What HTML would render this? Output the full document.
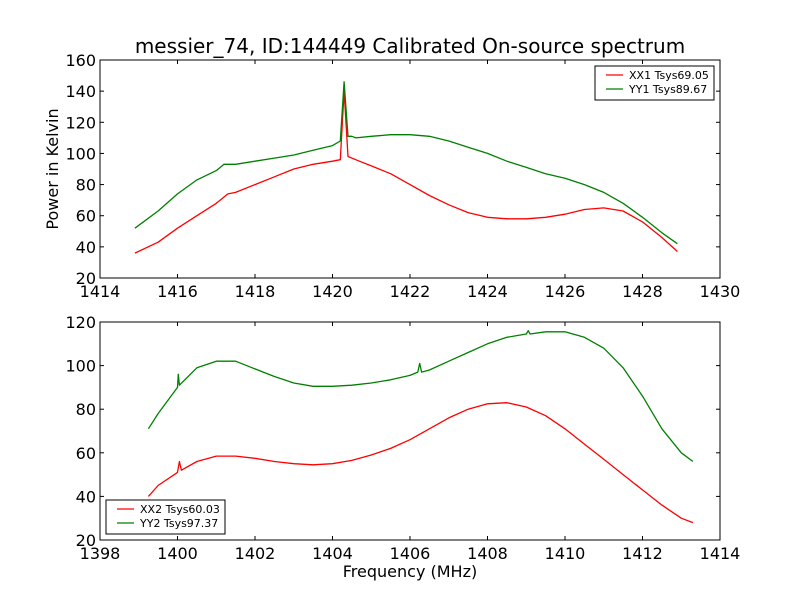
<!DOCTYPE html>
<html><head><meta charset="utf-8"><style>
body{margin:0;background:#fff}
svg{font-family:"DejaVu Sans","Liberation Sans",sans-serif}
</style></head><body>
<svg id="c" width="800" height="600" xmlns="http://www.w3.org/2000/svg"></svg>
<script>
const xx1X=[1414.9,1415.5,1416,1416.5,1417,1417.3,1417.5,1418,1418.5,1419,1419.5,1420,1420.2,1420.3,1420.4,1420.6,1421,1421.5,1422,1422.5,1423,1423.5,1424,1424.5,1425,1425.5,1426,1426.5,1427,1427.5,1428,1428.5,1428.9];
const xx1Y=[36,43,52,60,68,74,75,80,85,90,93,95,96,140,98,96,92,87,80,73,67,62,59,58,58,59,61,64,65,63,56,46,37];
const yy1X=[1414.9,1415.5,1416,1416.5,1417,1417.2,1417.5,1418,1418.5,1419,1419.5,1420,1420.2,1420.3,1420.4,1420.5,1420.6,1421,1421.5,1422,1422.5,1423,1423.5,1424,1424.5,1425,1425.5,1426,1426.5,1427,1427.5,1428,1428.5,1428.9];
const yy1Y=[52,63,74,83,89,93,93,95,97,99,102,105,108,146,111,111,110,111,112,112,111,108,104,100,95,91,87,84,80,75,68,59,49,42];
const xx2X=[1399.25,1399.5,1400,1400.05,1400.1,1400.5,1401,1401.5,1402,1402.5,1403,1403.5,1404,1404.5,1405,1405.5,1406,1406.5,1407,1407.5,1408,1408.5,1409,1409.5,1410,1410.5,1411,1411.5,1412,1412.5,1413,1413.3];
const xx2Y=[40,45,51,56,52,56,58.5,58.5,57.5,56,55,54.5,55,56.5,59,62,66,71,76,80,82.5,83,81,77,71,64,57,50,43,36,30,28];
const yy2X=[1399.25,1399.5,1400,1400.02,1400.05,1400.5,1401,1401.5,1402,1402.5,1403,1403.5,1404,1404.5,1405,1405.5,1406,1406.2,1406.25,1406.3,1406.5,1407,1407.5,1408,1408.5,1409,1409.05,1409.1,1409.5,1410,1410.5,1411,1411.5,1412,1412.5,1413,1413.3];
const yy2Y=[71,78,90,96,91,99,102,102,98.5,95,92,90.5,90.5,91,92,93.5,95.5,97,101,97,98,102,106,110,113,114.5,116,114.5,115.5,115.5,113,108,99,86,71,60,56];
const topXTicks=[1414,1416,1418,1420,1422,1424,1426,1428,1430];
const topYTicks=[20,40,60,80,100,120,140,160];
const botXTicks=[1398,1400,1402,1404,1406,1408,1410,1412,1414];
const botYTicks=[20,40,60,80,100,120];
const NS="http://www.w3.org/2000/svg";
const svg=document.getElementById('c');
function el(t,a,p){const e=document.createElementNS(NS,t);for(const k in a)e.setAttribute(k,a[k]);(p||svg).appendChild(e);return e;}
function panel(name,x0,x1,y0,y1,top,bot,xt,yt,series,leg){
  const L=100,R=720;
  const sx=v=>L+(v-x0)/(x1-x0)*(R-L), sy=v=>bot-(v-y0)/(y1-y0)*(bot-top);
  const g=el('g',{});
  series.forEach(s=>{const p=el('polyline',{points:s.x.map((v,i)=>sx(v).toFixed(1)+','+sy(s.y[i]).toFixed(1)).join(' '),fill:'none',stroke:s.c,'stroke-width':1.3,'stroke-linejoin':'round'},g);
    });
  const f=el('rect',{x:L,y:top,width:R-L,height:bot-top,fill:'none',stroke:'#000','stroke-width':1},g);
  
  xt.forEach(v=>{const X=sx(v);el('line',{x1:X,x2:X,y1:bot,y2:bot-4,stroke:'#000'},g);el('line',{x1:X,x2:X,y1:top,y2:top+4,stroke:'#000'},g);
    const t=el('text',{x:X,y:bot+19,'text-anchor':'middle','font-size':16},g);t.textContent=v;});
  yt.forEach(v=>{const Y=sy(v);el('line',{x1:L,x2:L+4,y1:Y,y2:Y,stroke:'#000'},g);el('line',{x1:R,x2:R-4,y1:Y,y2:Y,stroke:'#000'},g);
    const t=el('text',{x:L-4,y:Y+6,'text-anchor':'end','font-size':16},g);t.textContent=v;});
  const lg=el('g',{},g);
  el('rect',{x:leg.x,y:leg.y,width:119,height:34,fill:'#fff',stroke:'#000'},lg);
  series.forEach((s,i)=>{const Y=leg.y+9+i*14;el('line',{x1:leg.x+11,x2:leg.x+28,y1:Y,y2:Y,stroke:s.c,'stroke-width':1.2},lg);
    const t=el('text',{x:leg.x+34,y:Y+4,'font-size':11},lg);t.textContent=s.label;});
}
panel('top',1414,1430,20,160,60,278,topXTicks,topYTicks,[{n:'xx1',x:xx1X,y:xx1Y,c:'#ff0000',label:'XX1 Tsys69.05'},{n:'yy1',x:yy1X,y:yy1Y,c:'#008000',label:'YY1 Tsys89.67'}],{x:595,y:66});
panel('bottom',1398,1414,20,120,322,540,botXTicks,botYTicks,[{n:'xx2',x:xx2X,y:xx2Y,c:'#ff0000',label:'XX2 Tsys60.03'},{n:'yy2',x:yy2X,y:yy2Y,c:'#008000',label:'YY2 Tsys97.37'}],{x:106,y:500});
let t=el('text',{x:410,y:53,'text-anchor':'middle','font-size':20});t.textContent='messier_74, ID:144449 Calibrated On-source spectrum';
t=el('text',{x:410,y:577,'text-anchor':'middle','font-size':16});t.textContent='Frequency (MHz)';
t=el('text',{x:58,y:169,'text-anchor':'middle','font-size':16,transform:'rotate(-90 58 169)'});t.textContent='Power in Kelvin';
</script>
</body></html>
